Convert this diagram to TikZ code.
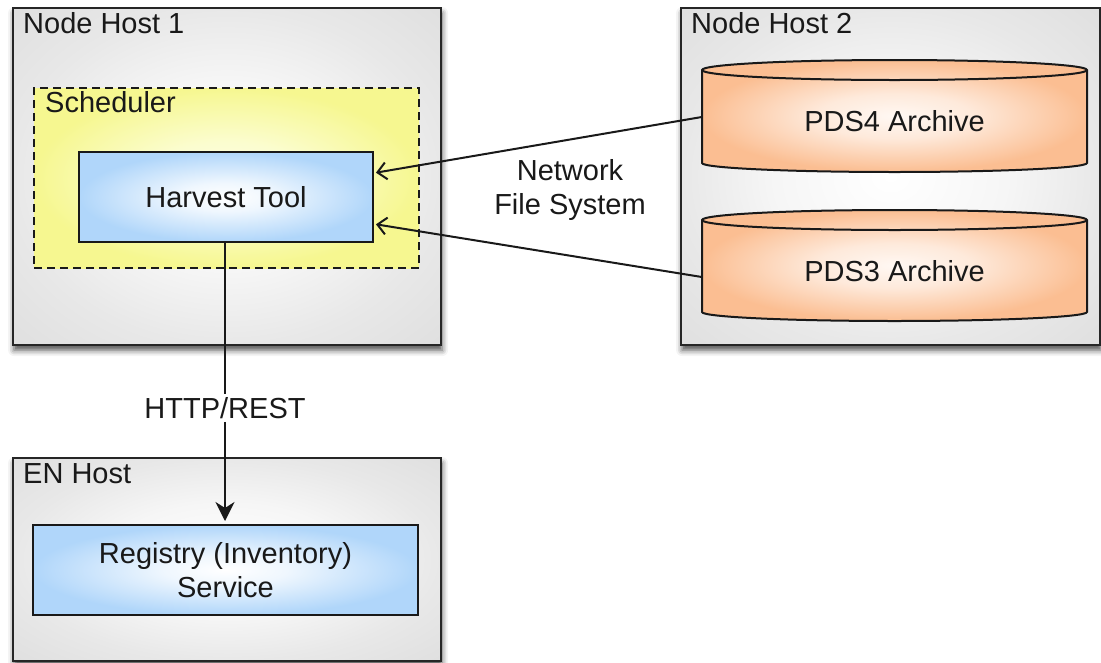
\documentclass[tikz,border=0pt]{standalone}
\usepackage{fontspec}
\setmainfont{Liberation Sans}
\usetikzlibrary{arrows.meta,shadows.blur,calc}
\definecolor{hostedge}{HTML}{E8E8E8}
\definecolor{hostcorner}{HTML}{DFDFDF}
\definecolor{blueedge}{HTML}{B0D6FA}
\definecolor{yelledge}{HTML}{F6F790}
\definecolor{yellmid}{HTML}{FDFFE4}
\definecolor{peach}{HTML}{FBBE92}
\definecolor{peachmid}{HTML}{FFF8F3}
\pgfdeclareradialshading{hostshade}{\pgfpoint{0bp}{0bp}}{color(0bp)=(white); color(14bp)=(white!60!hostedge); color(25bp)=(hostedge); color(36bp)=(hostcorner); color(50bp)=(hostcorner)}
\pgfdeclareradialshading{blueshade}{\pgfpoint{0bp}{0bp}}{color(0bp)=(white); color(8bp)=(white!80!blueedge); color(25bp)=(blueedge); color(50bp)=(blueedge)}
\pgfdeclareradialshading{yellshade}{\pgfpoint{0bp}{0bp}}{color(0bp)=(yellmid); color(10bp)=(yellmid!75!yelledge); color(25bp)=(yelledge); color(50bp)=(yelledge)}
\pgfdeclareradialshading{peachshade}{\pgfpoint{0bp}{0bp}}{color(0bp)=(peachmid); color(10bp)=(peachmid!75!peach); color(25bp)=(peach); color(50bp)=(peach)}
\newcommand{\bigfont}{\fontsize{29}{34}\selectfont}
\tikzset{
  every node/.style={font=\bigfont, text=black!90},
  hostbox/.style={draw=black!85, line width=2.2pt, shading=hostshade,
    blur shadow={shadow xshift=1pt, shadow yshift=-5pt, shadow blur radius=6pt, shadow opacity=70},
    anchor=north west, inner sep=0pt},
  toolbox/.style={draw=black!90, line width=2pt, shading=blueshade, align=center, inner sep=0pt},
  schedbox/.style={draw=black!90, line width=2pt, dash pattern=on 8pt off 5pt, shading=yellshade, anchor=north west, inner sep=0pt},
  cyl/.style={draw=black!90, line width=2pt, shading=peachshade},
  title/.style={anchor=base west, inner sep=0pt},
  conn/.style={line width=2pt, draw=black!90},
  nfs/.style={conn, -{Straight Barb[length=9pt,width=17pt,line width=2pt]}, shorten >=2pt},
  http/.style={conn, -{Stealth[length=19pt,width=19pt,inset=6pt]}, shorten >=3pt},
}
\begin{document}
\begin{tikzpicture}[x=1pt,y=-1pt]
\useasboundingbox (0,0) rectangle (1101,662);
% hosts
\node[hostbox, minimum width=428pt, minimum height=337pt] (h1) at (12,7) {};
\node[hostbox, minimum width=419pt, minimum height=337pt] (h2) at (680,7) {};
\node[hostbox, minimum width=428pt, minimum height=203pt] (h3) at (12,457) {};
\node[title] (t1) at (23,33) {Node Host 1};
\node[title] (t2) at (691,33) {Node Host 2};
\node[title] (t3) at (23,483) {EN Host};
% scheduler
\node[schedbox, minimum width=385pt, minimum height=180pt] (sched) at (33,87) {};
\node[title] (tsched) at (45,112) {Scheduler};
\node[toolbox, minimum width=294pt, minimum height=90pt] (harvest) at (226,197) {Harvest Tool};
% registry
\node[toolbox, minimum width=385pt, minimum height=90pt] (reg) at (225.5,570) {Registry (Inventory)\\Service};
% cylinders
\path[cyl] (702,70) -- (702,163) arc[start angle=180,end angle=360,x radius=192.5pt,y radius=9pt]
  -- (1087,70) arc[start angle=0,end angle=180,x radius=192.5pt,y radius=10pt] -- cycle;
\draw[conn] (702,70) arc[start angle=180,end angle=360,x radius=192.5pt,y radius=10pt];
\path[cyl] (702,220) -- (702,312) arc[start angle=180,end angle=360,x radius=192.5pt,y radius=9pt]
  -- (1087,220) arc[start angle=0,end angle=180,x radius=192.5pt,y radius=10pt] -- cycle;
\draw[conn] (702,220) arc[start angle=180,end angle=360,x radius=192.5pt,y radius=10pt];
\node[minimum width=385pt, inner sep=0pt] (pds4) at (894.5,121) {PDS4 Archive};
\node[minimum width=385pt, inner sep=0pt] (pds3) at (894.5,271) {PDS3 Archive};
% connectors
\node[align=center] (nfslabel) at (570,190) {Network\\File System};
\draw[nfs] ([yshift=4pt]pds4.west) -- ([yshift=24pt]harvest.east);
\draw[nfs] ([yshift=-6pt]pds3.west) -- ([yshift=-27pt]harvest.east);
\node[fill=white, inner sep=3pt] (httplabel) at (225,408) {HTTP/REST};
\draw[conn] (harvest.south -| httplabel.north) -- (httplabel.north);
\draw[http] (httplabel.south) -- (reg.north -| httplabel.south);
\end{tikzpicture}
\end{document}
